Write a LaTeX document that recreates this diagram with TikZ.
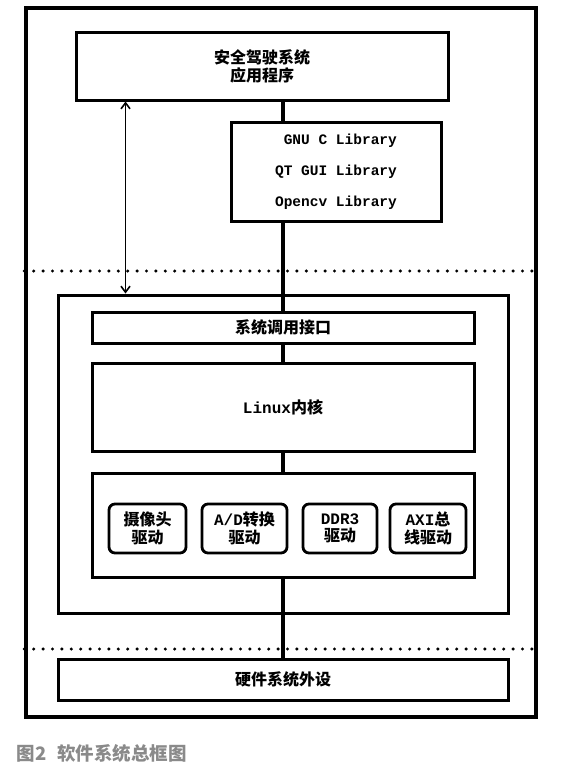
\documentclass[tikz,border=0pt]{standalone}
\usepackage{fontspec}
\setmainfont{Noto Sans CJK SC}
\setmonofont{Liberation Mono}
\usetikzlibrary{arrows.meta,calc}
\definecolor{CapGray}{HTML}{8A8A8A}
\newcommand{\lat}[1]{{\ttfamily #1}}

\begin{document}
\begin{tikzpicture}[x=1pt, y=-1pt,
    every node/.style={font=\bfseries\fontsize{16}{17.5}\selectfont},
    layer/.style={draw, line width=3pt, inner sep=0pt, align=center},
    drvbox/.style={draw, line width=2.8pt, rounded corners=6pt, inner sep=0pt, align=center, minimum height=49pt},
    link/.style={line width=3.2pt},
    sep/.style={line width=3.4pt, line cap=round, dash pattern=on 0pt off 9.4pt}]
    \useasboundingbox (0,0) rectangle (586,776);

    \node[draw, line width=3.4pt, minimum width=510pt, minimum height=709pt] (outer) at (281,362.5) {};

    % user space
    \node[layer, minimum width=372pt, minimum height=67pt] (app) at (262,66.5) {安全驾驶系统\\应用程序};
    \node[layer, minimum width=210pt, minimum height=99pt, font=\ttfamily\bfseries\fontsize{14.5}{31}\selectfont, align=right] (lib) at (336,171.5) {GNU C Library\\QT GUI Library\\Opencv Library};

    % kernel space
    \node[draw, line width=3pt, minimum width=450pt, minimum height=318pt] (kspace) at (283,454) {};
    \node[layer, minimum width=382pt, minimum height=31pt] (syscall) at (283,327.5) {系统调用接口};
    \node[layer, minimum width=382pt, minimum height=88pt] (kernel) at (283,407) {\lat{Linux}内核};
    \node[layer, minimum width=382pt, minimum height=104pt] (drv) at (283,525) {};
    \node[drvbox, minimum width=77pt] (cam) at (147.5,528.5) {摄像头\\驱动};
    \node[drvbox, minimum width=85pt] (adc) at (244.5,528.5) {\lat{A/D}转换\\驱动};
    \node[drvbox, minimum width=74pt] (ddr) at (340,528.5) {\lat{DDR3}\\驱动};
    \node[drvbox, minimum width=76pt] (axi) at (428,528.5) {\lat{AXI}总\\线驱动};

    % hardware
    \node[layer, minimum width=450pt, minimum height=41pt] (hw) at (283,679.5) {硬件系统外设};

    \draw[sep] (outer.west |- 0,271) -- (outer.east |- 0,271);
    \draw[sep] (outer.west |- 0,649) -- (outer.east |- 0,649);

    \draw[link] (app.south -| syscall.north) -- (lib.north -| syscall.north);
    \draw[link] (lib.south -| syscall.north) -- (syscall.north);
    \draw[link] (syscall) -- (kernel);
    \draw[link] (kernel) -- (drv);
    \draw[link] (drv.south) -- (hw.north);

    \coordinate (arrtop) at ($(app.south west)+(51,0)$);
    \draw[{Straight Barb[length=6pt,width=9pt]}-{Straight Barb[length=6pt,width=9pt]}, line width=1.6pt] (arrtop) -- (arrtop |- kspace.north);

    \node[anchor=west, text=CapGray, font=\bfseries\fontsize{18.5}{18.5}\selectfont] (caption) at (13,753) {图2\hspace{0.6em}软件系统总框图};
\end{tikzpicture}
\end{document}
